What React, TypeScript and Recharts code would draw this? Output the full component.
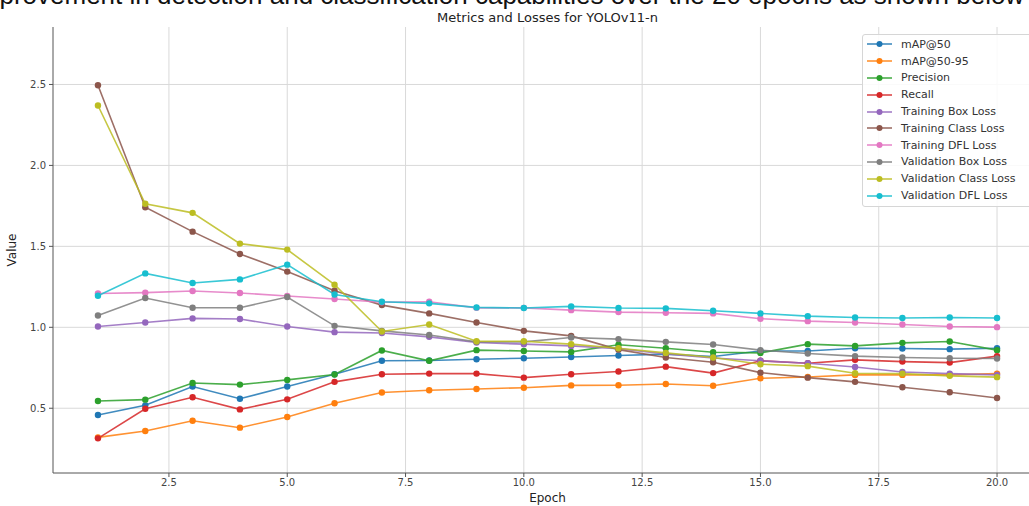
import { LineChart, Line, CartesianGrid, XAxis, YAxis } from 'recharts'

const epochs = [1, 2, 3, 4, 5, 6, 7, 8, 9, 10, 11, 12, 13, 14, 15, 16, 17, 18, 19, 20]

const map50 = [0.458, 0.518, 0.634, 0.559, 0.634, 0.71, 0.793, 0.795, 0.803, 0.809, 0.817, 0.826, 0.834, 0.82, 0.854, 0.854, 0.871, 0.869, 0.865, 0.871]
const map5095 = [0.32, 0.359, 0.423, 0.38, 0.446, 0.531, 0.597, 0.611, 0.619, 0.627, 0.641, 0.642, 0.65, 0.639, 0.685, 0.693, 0.706, 0.706, 0.706, 0.714]
const precision = [0.545, 0.553, 0.656, 0.646, 0.675, 0.708, 0.857, 0.793, 0.859, 0.854, 0.848, 0.892, 0.871, 0.846, 0.842, 0.896, 0.885, 0.904, 0.912, 0.859]
const recall = [0.314, 0.497, 0.568, 0.493, 0.555, 0.663, 0.71, 0.714, 0.714, 0.689, 0.71, 0.727, 0.757, 0.717, 0.793, 0.778, 0.799, 0.788, 0.782, 0.822]
const trainBox = [1.005, 1.03, 1.055, 1.051, 1.005, 0.97, 0.965, 0.941, 0.906, 0.896, 0.885, 0.868, 0.835, 0.81, 0.793, 0.778, 0.755, 0.724, 0.714, 0.706]
const trainCls = [2.495, 1.742, 1.591, 1.453, 1.344, 1.226, 1.137, 1.086, 1.03, 0.978, 0.947, 0.862, 0.813, 0.784, 0.72, 0.689, 0.663, 0.63, 0.599, 0.563]
const trainDfl = [1.209, 1.214, 1.224, 1.212, 1.193, 1.175, 1.155, 1.158, 1.12, 1.12, 1.106, 1.094, 1.09, 1.086, 1.053, 1.038, 1.03, 1.017, 1.005, 1.001]
const valBox = [1.073, 1.181, 1.121, 1.121, 1.187, 1.009, 0.978, 0.952, 0.91, 0.91, 0.937, 0.927, 0.91, 0.894, 0.859, 0.838, 0.822, 0.813, 0.809, 0.807]
const valCls = [2.37, 1.763, 1.707, 1.517, 1.48, 1.263, 0.974, 1.017, 0.914, 0.914, 0.896, 0.871, 0.842, 0.813, 0.772, 0.76, 0.716, 0.714, 0.7, 0.692]
const valDfl = [1.195, 1.333, 1.274, 1.296, 1.387, 1.203, 1.158, 1.148, 1.123, 1.119, 1.129, 1.119, 1.117, 1.102, 1.086, 1.069, 1.061, 1.057, 1.061, 1.057]

const xTicks = [2.5, 5, 7.5, 10, 12.5, 15, 17.5, 20]
const yTicks = [0.5, 1.0, 1.5, 2.0, 2.5]

const series = [
  { key: 'map50', name: 'mAP@50', color: '#1f77b4', values: map50 },
  { key: 'map5095', name: 'mAP@50-95', color: '#ff7f0e', values: map5095 },
  { key: 'precision', name: 'Precision', color: '#2ca02c', values: precision },
  { key: 'recall', name: 'Recall', color: '#d62728', values: recall },
  { key: 'trainBox', name: 'Training Box Loss', color: '#9467bd', values: trainBox },
  { key: 'trainCls', name: 'Training Class Loss', color: '#8c564b', values: trainCls },
  { key: 'trainDfl', name: 'Training DFL Loss', color: '#e377c2', values: trainDfl },
  { key: 'valBox', name: 'Validation Box Loss', color: '#7f7f7f', values: valBox },
  { key: 'valCls', name: 'Validation Class Loss', color: '#bcbd22', values: valCls },
  { key: 'valDfl', name: 'Validation DFL Loss', color: '#17becf', values: valDfl },
]

const font = '"DejaVu Sans", sans-serif'

function LegendBox() {
  return (
    <div style={{ position: 'absolute', left: 862, top: 34, background: 'rgba(255,255,255,0.85)', border: '1px solid #d6d6d6', borderRadius: 3, padding: '1px 0 2px 0', width: 190, fontFamily: font }}>
      {series.map((s) => (
        <div key={s.key} style={{ display: 'flex', alignItems: 'center', height: 16.8 }}>
          <svg width={38} height={10} style={{ flexShrink: 0 }}>
            <line x1={4} y1={5} x2={29} y2={5} stroke={s.color} strokeWidth={1.6} strokeOpacity={0.85} />
            <circle cx={16.5} cy={5} r={3} fill={s.color} />
          </svg>
          <span style={{ fontSize: 11, color: '#333', whiteSpace: 'nowrap' }}>{s.name}</span>
        </div>
      ))}
    </div>
  )
}

export default function App() {
  const chartData = epochs.map((epoch, i) => {
    const row: Record<string, number> = { epoch }
    series.forEach((s) => { row[s.key] = s.values[i] })
    return row
  })

  return (
    <div style={{ position: 'fixed', left: 0, top: 0, width: 1029, height: 506, overflow: 'hidden', background: 'white' }}>
      <div style={{ position: 'absolute', left: -28, top: -20, fontSize: 26, fontFamily: '"Liberation Sans", Arial, sans-serif', color: '#111', whiteSpace: 'nowrap' }}>
        improvement in detection and classification capabilities over the 20 epochs as shown below
      </div>
      <div style={{ position: 'absolute', left: 0, width: 1095, top: 10, textAlign: 'center', fontSize: 13, fontFamily: font, color: '#222' }}>
        Metrics and Losses for YOLOv11-n
      </div>
      <div style={{ position: 'absolute', left: 0, top: 0 }}>
        <LineChart width={1060} height={506} data={chartData} margin={{ top: 27, right: 18, bottom: 0, left: 0 }}>
          <CartesianGrid stroke="#d9d9d9" strokeWidth={1} verticalValues={xTicks} horizontalValues={yTicks} />
          <XAxis
            dataKey="epoch"
            type="number"
            domain={[0.05, 20.95]}
            ticks={xTicks}
            tickFormatter={(v) => v.toFixed(1)}
            tick={{ fontSize: 10, fill: '#444', fontFamily: font }}
            axisLine={{ stroke: '#555' }}
            tickLine={{ stroke: '#555' }}
            tickSize={4}
            tickMargin={2}
            height={33}
            allowDataOverflow
            label={{ value: 'Epoch', position: 'insideBottom', offset: 4, style: { fontSize: 12, fill: '#222', fontFamily: font } }}
          />
          <XAxis xAxisId="top" orientation="top" dataKey="epoch" type="number" domain={[0.05, 20.95]} tick={false} tickLine={false} axisLine={{ stroke: '#555' }} height={0} />
          <YAxis
            type="number"
            domain={[0.1, 2.855]}
            ticks={yTicks}
            tickFormatter={(v) => v.toFixed(1)}
            tick={{ fontSize: 10, fill: '#444', fontFamily: font }}
            axisLine={{ stroke: '#555' }}
            tickLine={{ stroke: '#555' }}
            tickSize={4}
            tickMargin={3}
            width={53}
            allowDataOverflow
            label={{ value: 'Value', angle: -90, position: 'insideLeft', offset: 12, style: { fontSize: 12, fill: '#222', fontFamily: font, textAnchor: 'middle' } }}
          />
          {series.map((s) => (
            <Line
              key={s.key}
              dataKey={s.key}
              name={s.name}
              stroke={s.color}
              strokeWidth={1.6}
              strokeOpacity={0.85}
              dot={{ r: 3.2, fill: s.color, stroke: 'none' }}
              isAnimationActive={false}
            />
          ))}
        </LineChart>
      </div>
      <LegendBox />
    </div>
  )
}
